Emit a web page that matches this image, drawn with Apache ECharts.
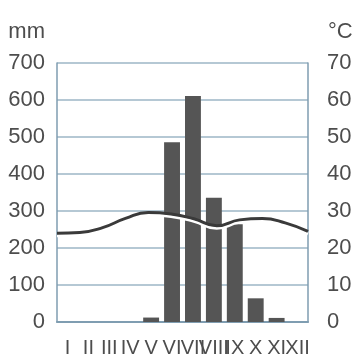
<!DOCTYPE html>
<html>
<head>
<meta charset="utf-8">
<script src="https://cdn.jsdelivr.net/npm/echarts@6/dist/echarts.min.js"></script>
<style>
html,body{margin:0;padding:0;background:#fff;}
#c{width:352px;height:354px;}
</style>
</head>
<body>
<div id="c"></div>
<script>
const months = ['I','II','III','IV','V','VI','VII','VIII','IX','X','XI','XII'];
const precipitation = [0, 0, 0, 0, 12, 486, 611, 336, 264, 64, 11, 0];
const temperature = [24.0, 24.2, 25.5, 28.0, 29.6, 29.2, 27.9, 26.0, 27.6, 28.0, 26.8, 24.5];
const mmTicks = [0, 100, 200, 300, 400, 500, 600, 700];
const cTicks = [0, 10, 20, 30, 40, 50, 60, 70];

const FONT = "'Liberation Sans Narrow','Liberation Sans',Arial,sans-serif";
const FW = 'normal condensed';
const TXT = '#4d4d4d';
const GRID = '#9db6c6';
const FRAME = '#7f9db1';
const FS = 22;

const chart = echarts.init(document.getElementById('c'));
chart.setOption({
  animation: false,
  backgroundColor: '#fff',
  grid: { left: 57, right: 44, top: 63, bottom: 32, containLabel: false, outerBoundsMode: 'none' },
  xAxis: [
    {
      type: 'category', data: months, boundaryGap: true,
      axisTick: { show: false },
      axisLine: { show: true, lineStyle: { color: FRAME, width: 2 } },
      axisLabel: { interval: 0, hideOverlap: false, color: TXT, fontFamily: FONT, fontWeight: FW, fontSize: 20, margin: 16, verticalAlign: 'top' }
    },
    {
      type: 'category', data: months, boundaryGap: false, show: false, position: 'bottom'
    }
  ],
  yAxis: [
    {
      type: 'value', min: 0, max: 700, interval: 100, position: 'left',
      name: 'mm', nameGap: 20,
      nameTextStyle: { color: TXT, fontFamily: FONT, fontWeight: FW, fontSize: FS, align: 'right', padding: [0, 12, 0, 0] },
      axisLine: { show: true, lineStyle: { color: FRAME, width: 1.5 } },
      axisTick: { show: false },
      axisLabel: { color: TXT, fontFamily: FONT, fontWeight: FW, fontSize: FS, margin: 12,
        formatter: v => mmTicks.includes(v) ? String(v) : '' },
      splitLine: { show: true, lineStyle: { color: GRID, width: 1.5 } }
    },
    {
      type: 'value', min: 0, max: 70, interval: 10, position: 'right',
      name: '°C', nameGap: 20,
      nameTextStyle: { color: TXT, fontFamily: FONT, fontWeight: FW, fontSize: FS, align: 'left', padding: [0, 0, 0, 20] },
      axisLine: { show: true, lineStyle: { color: FRAME, width: 1.5 } },
      axisTick: { show: false },
      axisLabel: { color: TXT, fontFamily: FONT, fontWeight: FW, fontSize: FS, margin: 19,
        formatter: v => cTicks.includes(v) ? String(v) : '' },
      splitLine: { show: false }
    }
  ],
  series: [
    {
      type: 'bar', data: precipitation, xAxisIndex: 0, yAxisIndex: 0,
      barWidth: '76%',
      itemStyle: { color: '#555555' }
    },
    {
      type: 'line', data: temperature, xAxisIndex: 1, yAxisIndex: 1,
      smooth: true, symbol: 'none', z: 5,
      lineStyle: { color: '#3a3a3a', width: 3, shadowColor: '#ffffff', shadowOffsetY: 2.5, shadowBlur: 0 }
    }
  ]
});
</script>
</body>
</html>
